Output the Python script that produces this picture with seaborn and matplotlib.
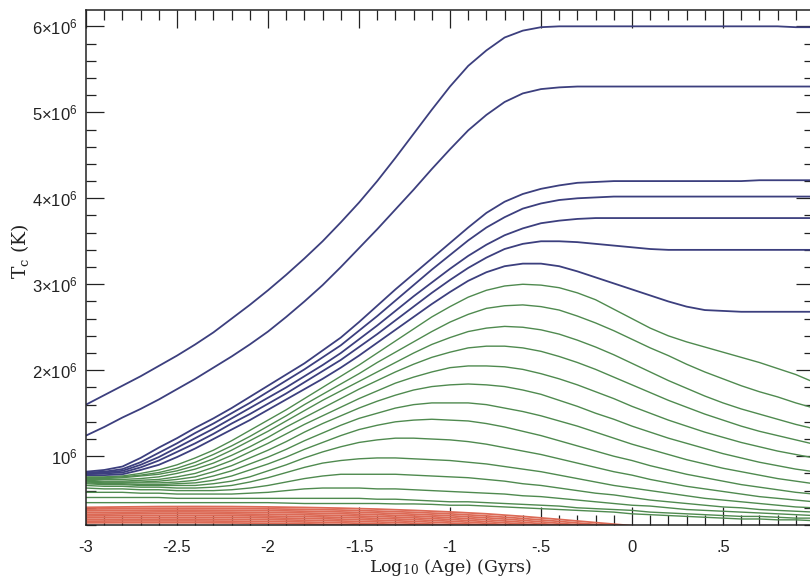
#%% libraries
import pandas as pd
import seaborn as sb
import matplotlib
matplotlib.use("Agg")
import matplotlib.pyplot as plt
from matplotlib.ticker import MultipleLocator

#%% data: central temperature (units of 10^6 K) vs log10 age (Gyr)
# fine grid for the blue / green tracks: -3.0 ... 1.0 step 0.1
age = [-3.0, -2.9, -2.8, -2.7, -2.6, -2.5, -2.4, -2.3, -2.2, -2.1, -2.0,
       -1.9, -1.8, -1.7, -1.6, -1.5, -1.4, -1.3, -1.2, -1.1, -1.0,
       -0.9, -0.8, -0.7, -0.6, -0.5, -0.4, -0.3, -0.2, -0.1, 0.0,
       0.1, 0.2, 0.3, 0.4, 0.5, 0.6, 0.7, 0.8, 0.9, 1.0]
# coarse grid for the red tracks
age_red = [-3.0, -2.8, -2.6, -2.4, -2.2, -2.0, -1.8, -1.6, -1.4, -1.2, -1.0,
           -0.8, -0.6, -0.4, -0.2, 0.0, 0.2, 0.4, 0.6, 0.8, 1.0]

blue_T = [
    [1.60, 1.71, 1.82, 1.93, 2.05, 2.17, 2.30, 2.44, 2.60, 2.76, 2.93,
     3.11, 3.30, 3.50, 3.72, 3.95, 4.20, 4.47, 4.75, 5.03, 5.30,
     5.54, 5.72, 5.87, 5.95, 5.99, 6.00, 6.00, 6.00, 6.00, 6.00,
     6.00, 6.00, 6.00, 6.00, 6.00, 6.00, 6.00, 6.00, 5.99, 5.99],
    [1.24, 1.34, 1.45, 1.55, 1.66, 1.78, 1.90, 2.03, 2.16, 2.30, 2.45,
     2.62, 2.80, 2.99, 3.20, 3.42, 3.64, 3.87, 4.10, 4.34, 4.57,
     4.79, 4.97, 5.12, 5.22, 5.27, 5.29, 5.30, 5.30, 5.30, 5.30,
     5.30, 5.30, 5.30, 5.30, 5.30, 5.30, 5.30, 5.30, 5.30, 5.30],
    [0.82, 0.84, 0.88, 0.98, 1.10, 1.21, 1.33, 1.44, 1.56, 1.69, 1.82,
     1.95, 2.08, 2.23, 2.38, 2.56, 2.75, 2.94, 3.12, 3.30, 3.48,
     3.66, 3.83, 3.96, 4.05, 4.11, 4.15, 4.18, 4.19, 4.20, 4.20,
     4.20, 4.20, 4.20, 4.20, 4.20, 4.20, 4.21, 4.21, 4.21, 4.21],
    [0.81, 0.82, 0.85, 0.93, 1.04, 1.15, 1.27, 1.38, 1.50, 1.62, 1.75,
     1.88, 2.01, 2.15, 2.29, 2.46, 2.63, 2.81, 2.99, 3.17, 3.34,
     3.51, 3.66, 3.78, 3.88, 3.94, 3.98, 4.00, 4.01, 4.02, 4.02,
     4.02, 4.02, 4.02, 4.02, 4.02, 4.02, 4.02, 4.02, 4.02, 4.02],
    [0.80, 0.81, 0.83, 0.90, 0.99, 1.10, 1.21, 1.32, 1.44, 1.56, 1.68,
     1.80, 1.93, 2.06, 2.20, 2.36, 2.52, 2.69, 2.86, 3.02, 3.18,
     3.33, 3.46, 3.57, 3.65, 3.71, 3.74, 3.76, 3.77, 3.77, 3.77,
     3.77, 3.77, 3.77, 3.77, 3.77, 3.77, 3.77, 3.77, 3.77, 3.77],
    [0.79, 0.80, 0.81, 0.87, 0.95, 1.05, 1.15, 1.26, 1.38, 1.49, 1.61,
     1.73, 1.86, 1.99, 2.12, 2.27, 2.42, 2.58, 2.74, 2.90, 3.05,
     3.19, 3.31, 3.41, 3.47, 3.50, 3.50, 3.49, 3.47, 3.45, 3.43,
     3.41, 3.40, 3.40, 3.40, 3.40, 3.40, 3.40, 3.40, 3.40, 3.40],
    [0.78, 0.78, 0.79, 0.84, 0.90, 0.99, 1.09, 1.20, 1.31, 1.42, 1.54,
     1.66, 1.78, 1.90, 2.03, 2.17, 2.32, 2.47, 2.62, 2.77, 2.91,
     3.04, 3.14, 3.21, 3.24, 3.24, 3.21, 3.15, 3.08, 3.01, 2.94,
     2.87, 2.80, 2.74, 2.70, 2.69, 2.68, 2.68, 2.68, 2.68, 2.68],
]

green_T = [
    [0.76, 0.76, 0.77, 0.80, 0.84, 0.90, 0.98, 1.07, 1.18, 1.30, 1.42,
     1.54, 1.67, 1.80, 1.93, 2.06, 2.20, 2.34, 2.48, 2.62, 2.74,
     2.85, 2.93, 2.98, 3.00, 2.99, 2.96, 2.90, 2.82, 2.71, 2.60,
     2.49, 2.40, 2.33, 2.27, 2.21, 2.15, 2.09, 2.02, 1.95, 1.86],
    [0.75, 0.75, 0.76, 0.78, 0.81, 0.86, 0.93, 1.02, 1.12, 1.23, 1.35,
     1.47, 1.60, 1.72, 1.84, 1.96, 2.09, 2.21, 2.33, 2.45, 2.56,
     2.65, 2.72, 2.75, 2.76, 2.74, 2.70, 2.63, 2.55, 2.46, 2.36,
     2.26, 2.17, 2.07, 1.98, 1.90, 1.82, 1.75, 1.69, 1.62, 1.56],
    [0.74, 0.74, 0.75, 0.77, 0.79, 0.83, 0.89, 0.97, 1.07, 1.18, 1.29,
     1.41, 1.53, 1.65, 1.76, 1.87, 1.98, 2.09, 2.20, 2.30, 2.38,
     2.45, 2.49, 2.51, 2.50, 2.47, 2.42, 2.35, 2.27, 2.18, 2.08,
     1.98, 1.88, 1.79, 1.70, 1.62, 1.55, 1.49, 1.43, 1.37, 1.32],
    [0.73, 0.73, 0.73, 0.74, 0.76, 0.80, 0.85, 0.92, 1.01, 1.11, 1.22,
     1.34, 1.45, 1.56, 1.67, 1.78, 1.88, 1.98, 2.07, 2.15, 2.21,
     2.26, 2.28, 2.28, 2.26, 2.22, 2.16, 2.09, 2.01, 1.92, 1.83,
     1.74, 1.65, 1.57, 1.49, 1.42, 1.35, 1.29, 1.24, 1.19, 1.14],
    [0.72, 0.71, 0.71, 0.72, 0.73, 0.76, 0.80, 0.87, 0.95, 1.05, 1.15,
     1.26, 1.37, 1.47, 1.57, 1.67, 1.76, 1.85, 1.92, 1.98, 2.03,
     2.05, 2.05, 2.04, 2.01, 1.96, 1.90, 1.83, 1.75, 1.67, 1.58,
     1.50, 1.42, 1.35, 1.28, 1.22, 1.16, 1.11, 1.06, 1.02, 0.98],
    [0.71, 0.70, 0.70, 0.70, 0.71, 0.73, 0.76, 0.82, 0.89, 0.98, 1.07,
     1.17, 1.28, 1.38, 1.47, 1.56, 1.64, 1.71, 1.77, 1.81, 1.83,
     1.84, 1.83, 1.81, 1.77, 1.72, 1.65, 1.58, 1.50, 1.43, 1.35,
     1.28, 1.21, 1.15, 1.09, 1.03, 0.98, 0.93, 0.89, 0.85, 0.82],
    [0.70, 0.69, 0.69, 0.69, 0.69, 0.70, 0.72, 0.77, 0.83, 0.91, 0.99,
     1.08, 1.18, 1.27, 1.36, 1.44, 1.50, 1.56, 1.60, 1.62, 1.62,
     1.62, 1.60, 1.56, 1.52, 1.47, 1.41, 1.35, 1.28, 1.21, 1.14,
     1.08, 1.02, 0.96, 0.91, 0.86, 0.82, 0.78, 0.74, 0.71, 0.68],
    [0.69, 0.68, 0.68, 0.67, 0.67, 0.68, 0.69, 0.72, 0.77, 0.84, 0.91,
     0.99, 1.08, 1.16, 1.24, 1.31, 1.36, 1.40, 1.42, 1.43, 1.42,
     1.41, 1.38, 1.34, 1.29, 1.24, 1.18, 1.12, 1.06, 1.00, 0.95,
     0.89, 0.84, 0.79, 0.75, 0.71, 0.67, 0.64, 0.61, 0.58, 0.56],
    [0.68, 0.67, 0.67, 0.66, 0.66, 0.66, 0.66, 0.68, 0.71, 0.76, 0.83,
     0.90, 0.98, 1.05, 1.11, 1.16, 1.19, 1.21, 1.21, 1.20, 1.19,
     1.17, 1.14, 1.10, 1.06, 1.02, 0.97, 0.92, 0.87, 0.82, 0.78,
     0.73, 0.69, 0.65, 0.62, 0.59, 0.56, 0.53, 0.51, 0.49, 0.47],
    [0.66, 0.65, 0.65, 0.64, 0.64, 0.63, 0.63, 0.64, 0.66, 0.70, 0.75,
     0.81, 0.87, 0.92, 0.95, 0.97, 0.98, 0.98, 0.97, 0.96, 0.95,
     0.93, 0.91, 0.88, 0.85, 0.82, 0.78, 0.74, 0.70, 0.66, 0.63,
     0.60, 0.57, 0.54, 0.51, 0.49, 0.47, 0.45, 0.43, 0.41, 0.40],
    [0.63, 0.62, 0.62, 0.61, 0.61, 0.60, 0.60, 0.60, 0.61, 0.63, 0.66,
     0.70, 0.74, 0.77, 0.79, 0.79, 0.79, 0.79, 0.78, 0.77, 0.76,
     0.75, 0.73, 0.71, 0.68, 0.66, 0.63, 0.60, 0.57, 0.55, 0.52,
     0.49, 0.47, 0.45, 0.43, 0.41, 0.40, 0.38, 0.37, 0.36, 0.35],
    [0.58, 0.58, 0.58, 0.57, 0.57, 0.56, 0.56, 0.56, 0.56, 0.57, 0.58,
     0.60, 0.62, 0.63, 0.63, 0.63, 0.62, 0.62, 0.61, 0.60, 0.59,
     0.58, 0.57, 0.56, 0.54, 0.53, 0.51, 0.49, 0.47, 0.45, 0.43,
     0.42, 0.40, 0.38, 0.37, 0.36, 0.35, 0.34, 0.33, 0.32, 0.31],
    [0.52, 0.52, 0.52, 0.52, 0.52, 0.51, 0.51, 0.51, 0.51, 0.51, 0.51,
     0.51, 0.51, 0.51, 0.51, 0.51, 0.50, 0.50, 0.49, 0.48, 0.47,
     0.47, 0.46, 0.45, 0.44, 0.43, 0.42, 0.40, 0.39, 0.38, 0.37,
     0.35, 0.34, 0.33, 0.32, 0.31, 0.30, 0.30, 0.29, 0.28, 0.28],
    [0.46, 0.46, 0.46, 0.46, 0.46, 0.46, 0.46, 0.46, 0.46, 0.46, 0.46,
     0.455, 0.45, 0.45, 0.45, 0.45, 0.45, 0.445, 0.445, 0.44, 0.43,
     0.43, 0.42, 0.41, 0.40, 0.39, 0.38, 0.37, 0.36, 0.35, 0.33,
     0.32, 0.31, 0.30, 0.29, 0.28, 0.27, 0.27, 0.26, 0.26, 0.25],
]

red_T = [
    [0.405, 0.410, 0.414, 0.415, 0.414, 0.410, 0.404, 0.396, 0.385, 0.370, 0.352, 0.330, 0.300, 0.265, 0.228, 0.192, 0.160, 0.140, 0.120, 0.110, 0.100],
    [0.385, 0.390, 0.393, 0.394, 0.392, 0.388, 0.382, 0.374, 0.362, 0.348, 0.330, 0.306, 0.276, 0.242, 0.206, 0.170, 0.140, 0.120, 0.110, 0.100, 0.090],
    [0.365, 0.370, 0.373, 0.373, 0.371, 0.367, 0.361, 0.352, 0.341, 0.326, 0.308, 0.284, 0.254, 0.220, 0.186, 0.150, 0.130, 0.110, 0.100, 0.090, 0.080],
    [0.345, 0.349, 0.352, 0.352, 0.350, 0.346, 0.340, 0.331, 0.320, 0.305, 0.286, 0.262, 0.232, 0.200, 0.170, 0.140, 0.120, 0.100, 0.090, 0.080, 0.070],
    [0.325, 0.329, 0.331, 0.331, 0.329, 0.325, 0.319, 0.310, 0.299, 0.284, 0.265, 0.240, 0.212, 0.180, 0.150, 0.130, 0.110, 0.090, 0.080, 0.070, 0.060],
    [0.305, 0.308, 0.310, 0.310, 0.308, 0.304, 0.298, 0.289, 0.278, 0.263, 0.244, 0.220, 0.190, 0.160, 0.140, 0.120, 0.100, 0.080, 0.070, 0.060, 0.050],
    [0.285, 0.288, 0.289, 0.289, 0.287, 0.283, 0.277, 0.268, 0.257, 0.242, 0.223, 0.200, 0.170, 0.150, 0.130, 0.110, 0.090, 0.070, 0.060, 0.050, 0.050],
    [0.265, 0.267, 0.268, 0.268, 0.266, 0.262, 0.256, 0.247, 0.236, 0.221, 0.200, 0.180, 0.160, 0.140, 0.120, 0.100, 0.080, 0.060, 0.050, 0.050, 0.050],
    [0.245, 0.247, 0.247, 0.247, 0.245, 0.241, 0.235, 0.226, 0.215, 0.200, 0.180, 0.160, 0.140, 0.120, 0.100, 0.080, 0.060, 0.050, 0.050, 0.050, 0.050],
    [0.225, 0.226, 0.226, 0.226, 0.224, 0.220, 0.214, 0.205, 0.195, 0.180, 0.160, 0.140, 0.120, 0.100, 0.080, 0.060, 0.050, 0.050, 0.050, 0.050, 0.050],
]

x_ticks = [-3, -2.5, -2, -1.5, -1, -0.5, 0, 0.5]
x_labels = ["-3", "-2.5", "-2", "-1.5", "-1", "-.5", "0", ".5"]
y_ticks = [1, 2, 3, 4, 5, 6]
y_labels = ["10$^{6}$", "2\u00d710$^{6}$", "3\u00d710$^{6}$",
            "4\u00d710$^{6}$", "5\u00d710$^{6}$", "6\u00d710$^{6}$"]

#%% long table
rows = []
for grp, tracks, x in [("blue", blue_T, age), ("green", green_T, age),
                       ("red", red_T, age_red)]:
    for i, tr in enumerate(tracks):
        rows.append(pd.DataFrame({"age": x, "T": tr,
                                  "track": f"{grp}{i}", "group": grp}))
df = pd.concat(rows, ignore_index=True)

#%% style
sb.set_style("ticks")
plt.rcParams["font.family"] = ["Liberation Sans", "DejaVu Sans"]
plt.rcParams["mathtext.default"] = "regular"

colors = {"blue": "#3c3f7e", "green": "#4f8a4f", "red": "#dc6a56"}
widths = {"blue": 1.3, "green": 1.0, "red": 1.3}

fig = plt.figure(figsize=(8.1, 5.81), dpi=100)
ax = fig.add_axes([86/810, 56/581, 728/810, 515/581])

for grp in ["red", "green", "blue"]:
    sub = df[df["group"] == grp]
    sb.lineplot(data=sub, x="age", y="T", units="track", estimator=None,
                sort=False, color=colors[grp], linewidth=widths[grp],
                legend=False, ax=ax)

ax.set_xlim(-3, 1.0)
ax.set_ylim(0.2, 6.19)
ax.set_xticks(x_ticks)
ax.set_xticklabels(x_labels)
ax.set_yticks(y_ticks)
ax.set_yticklabels(y_labels)
ax.xaxis.set_minor_locator(MultipleLocator(0.1))
ax.yaxis.set_minor_locator(MultipleLocator(0.2))
ax.tick_params(which="both", direction="in", top=True, right=True,
               color="#222222", width=0.9, labelsize=12, labelcolor="#222222")
ax.tick_params(which="major", length=13)
ax.tick_params(which="minor", length=7)
ax.tick_params(axis="x", pad=11)
ax.tick_params(axis="y", pad=6)
for s in ax.spines.values():
    s.set_linewidth(1.1)
    s.set_color("#222222")

ax.set_xlabel("Log$_{10}$ (Age) (Gyrs)", family="DejaVu Serif",
              fontsize=12.5, color="#222222")
ax.set_ylabel("T$_c$ (K)", family="DejaVu Serif", fontsize=13.5,
              color="#222222")
ax.xaxis.set_label_coords(0.5, -0.062)
ax.yaxis.set_label_coords(-0.075, 0.532)

fig.savefig("out.png", dpi=100)
